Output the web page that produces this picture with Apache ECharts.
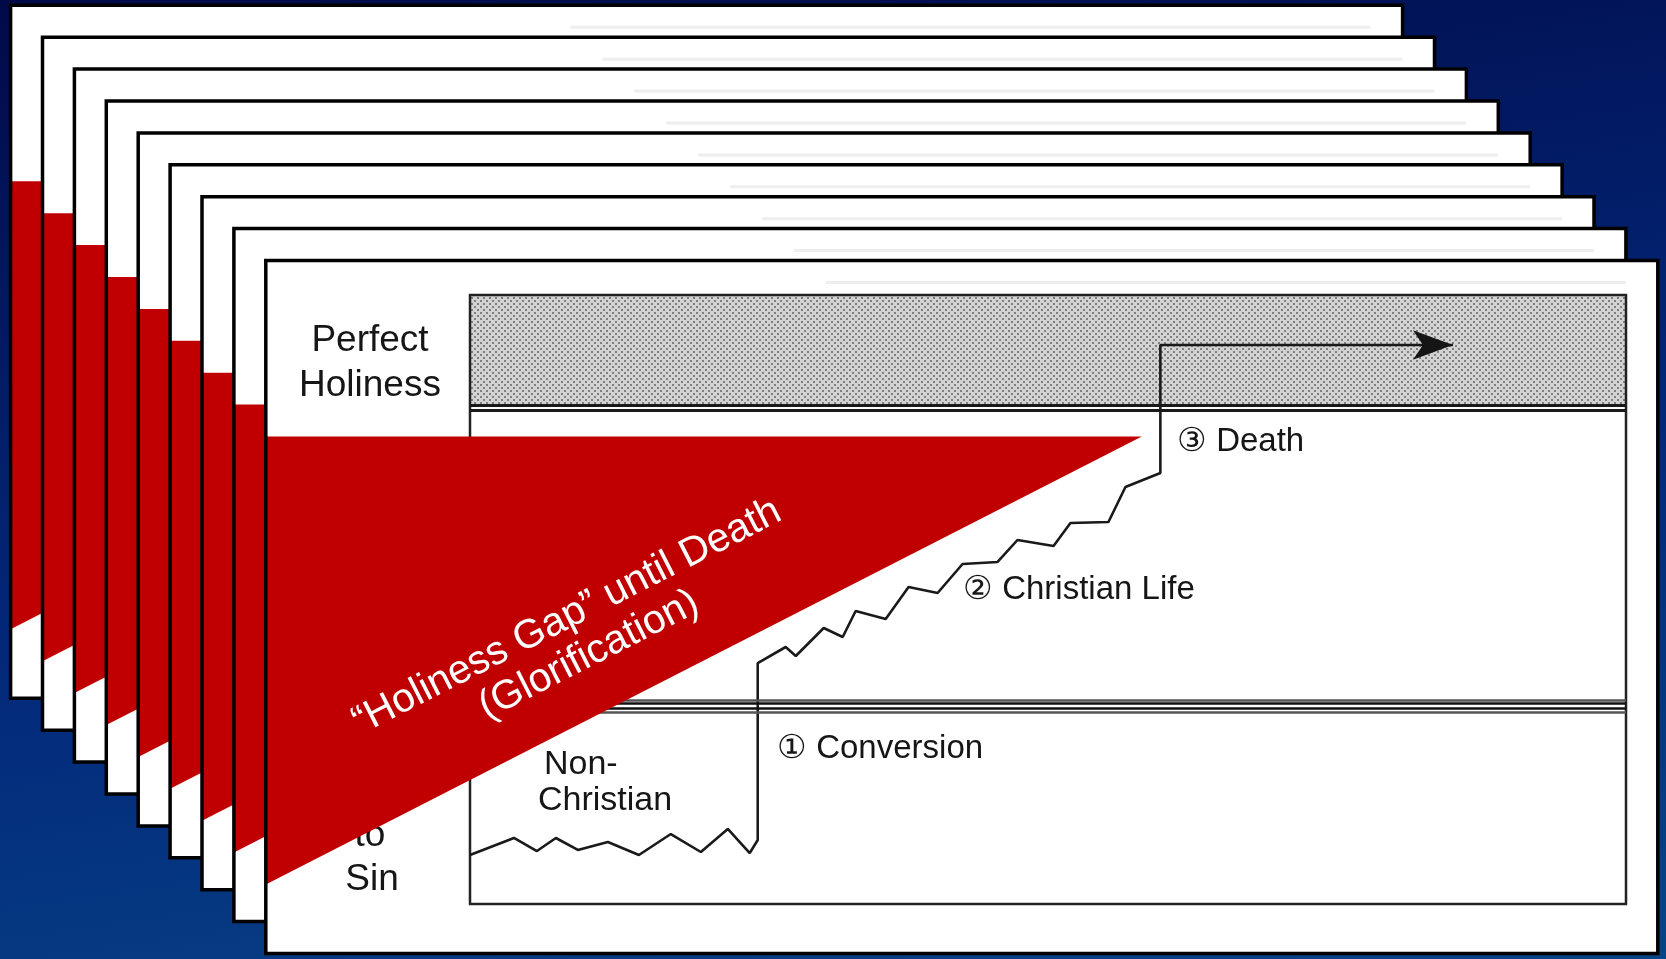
<!DOCTYPE html>
<html>
<head>
<meta charset="utf-8">
<script src="https://cdn.jsdelivr.net/npm/echarts@6/dist/echarts.min.js"></script>
<style>
  html, body { margin: 0; padding: 0; }
  #main {
    width: 1666px; height: 959px;
    background: linear-gradient(172deg, #010a48 0%, #03287a 55%, #074587 100%);
  }
</style>
</head>
<body>
<div id="main"></div>
<script>
// path of a life: x = time (0..100 across the box), y = holiness (0..100)
var pathX = [0, 3.8, 5.79, 7.43, 9.33, 11.93, 14.61, 17.37, 19.97, 22.3, 24.2, 24.89,
  24.89, 27.31, 28.18, 30.6, 32.24, 33.36, 35.96, 37.94, 40.45, 42.61, 45.64, 47.36,
  50.48, 51.94, 55.23, 56.7, 59.72, 59.72, 85.03];
var pathY = [8.05, 10.84, 8.7, 10.84, 8.87, 10.18, 8.05, 11.49, 8.54, 12.32, 8.37, 10.51,
  39.57, 42.2, 40.72, 45.32, 43.84, 48.11, 46.8, 52.05, 51.07, 55.83, 56.16, 59.77,
  58.78, 62.56, 62.73, 68.47, 70.77, 91.79, 91.79];

var bandFrom = 82.1;                       // shaded "perfect holiness" band
var bandLines = [81.86, 81.12];
var conversionLines = [33.5, 32.89, 32.18, 31.53];
var conversionLineColors = ['#555', '#111', '#111', '#555'];

var sideLabels = ['Perfect', 'Holiness', 'to', 'Sin'];
var stageLabels = ['\u2460 Conversion', '\u2461 Christian Life', '\u2462 Death'];
var gapText = ['\u201cHoliness Gap\u201d until Death', '(Glorification)'];

var chart = echarts.init(document.getElementById('main'), null, { renderer: 'canvas' });

// dotted halftone for the top band
var tile = document.createElement('canvas');
tile.width = 6; tile.height = 6;
var ctx = tile.getContext('2d');
ctx.fillStyle = '#d2d2d2'; ctx.fillRect(0, 0, 6, 6);
ctx.fillStyle = '#808080'; ctx.fillRect(0, 0, 2, 2); ctx.fillRect(3, 3, 2, 2);

var CARD_W = 1392, CARD_H = 693;
var elements = [];
for (var i = 0; i < 9; i++) {
  var cx = 10.6 + 31.9 * i, cy = 5.3 + 31.9 * i;
  var front = i === 8;
  var base = -10 + i;
  elements.push({ type: 'rect', z: base, silent: true,
    shape: { x: cx, y: cy, width: CARD_W, height: CARD_H }, style: { fill: '#fff' } });
  elements.push({ type: 'line', z: base + 0.1, silent: true,
    shape: { x1: cx + 560, y1: cy + 22, x2: cx + 1360, y2: cy + 22 },
    style: { stroke: '#eeeeee', lineWidth: 3 } });
  elements.push({ type: 'polygon', z: front ? 10 : base + 0.2, silent: true,
    shape: { points: [[cx, cy + 176], [cx + 876, cy + 176], [cx, cy + 624]] },
    style: { fill: '#c00000' } });
  elements.push({ type: 'rect', z: front ? 12 : base + 0.3, silent: true,
    shape: { x: cx, y: cy, width: CARD_W, height: CARD_H },
    style: { fill: 'none', stroke: '#000', lineWidth: 3.5 } });
}

function label(text, x, y, align, size, color, z, rot) {
  return { type: 'text', x: x, y: y, z: z || 4, rotation: rot || 0, silent: true,
    style: { text: text, fill: color || '#161616',
      font: (size || 34) + 'px "Liberation Sans", Arial, sans-serif',
      align: align, verticalAlign: 'middle', textAlign: align, textVerticalAlign: 'middle' } };
}

elements.push(label(sideLabels[0], 370, 341, 'center', 37));
elements.push(label(sideLabels[1], 370, 386, 'center', 37));
elements.push(label(sideLabels[2], 370, 836, 'center', 37));
elements.push(label(sideLabels[3], 372, 880, 'center', 37));
elements.push(label('Non-', 544, 765, 'left'));
elements.push(label('Christian', 538, 801, 'left'));
elements.push(label(stageLabels[0], 777, 749, 'left', 33));
elements.push(label(stageLabels[1], 963, 590, 'left', 33));
elements.push(label(stageLabels[2], 1177, 442, 'left', 33));

var rot = 27 * Math.PI / 180;
elements.push(label(gapText[0], 567, 617, 'center', 40.5, '#fff', 11, rot));
elements.push(label(gapText[1], 589, 655, 'center', 40.5, '#fff', 11, rot));

var pathData = pathX.map(function (x, k) { return [x, pathY[k]]; });
var last = pathData.length - 1;
pathData[last] = { value: pathData[last], symbol: 'arrow', symbolSize: [22, 40],
  symbolRotate: -90, itemStyle: { color: '#151515' } };

var lineMarks = bandLines.map(function (v) {
  return { yAxis: v, lineStyle: { color: '#1a1a1a', width: 2.8, type: 'solid' } };
}).concat(conversionLines.map(function (v, k) {
  return { yAxis: v, lineStyle: { color: conversionLineColors[k], width: 2.6, type: 'solid' } };
}));

option = {
  animation: false,
  backgroundColor: 'transparent',
  graphic: { elements: elements },
  grid: { left: 470, top: 295, width: 1156, height: 609, show: true,
    borderColor: '#222', borderWidth: 2.5, backgroundColor: 'transparent', z: 3 },
  xAxis: { type: 'value', min: 0, max: 100, show: false },
  yAxis: { type: 'value', min: 0, max: 100, show: false },
  series: [{
    type: 'line',
    z: 4,
    silent: true,
    data: pathData,
    symbol: 'none',
    showSymbol: true,
    lineStyle: { color: '#1a1a1a', width: 2.6 },
    markArea: {
      silent: true,
      itemStyle: { color: { image: tile, repeat: 'repeat' } },
      data: [[{ yAxis: bandFrom }, { yAxis: 100 }]]
    },
    markLine: {
      silent: true,
      symbol: ['none', 'none'],
      label: { show: false },
      data: lineMarks
    }
  }]
};

chart.setOption(option);
</script>
</body>
</html>
